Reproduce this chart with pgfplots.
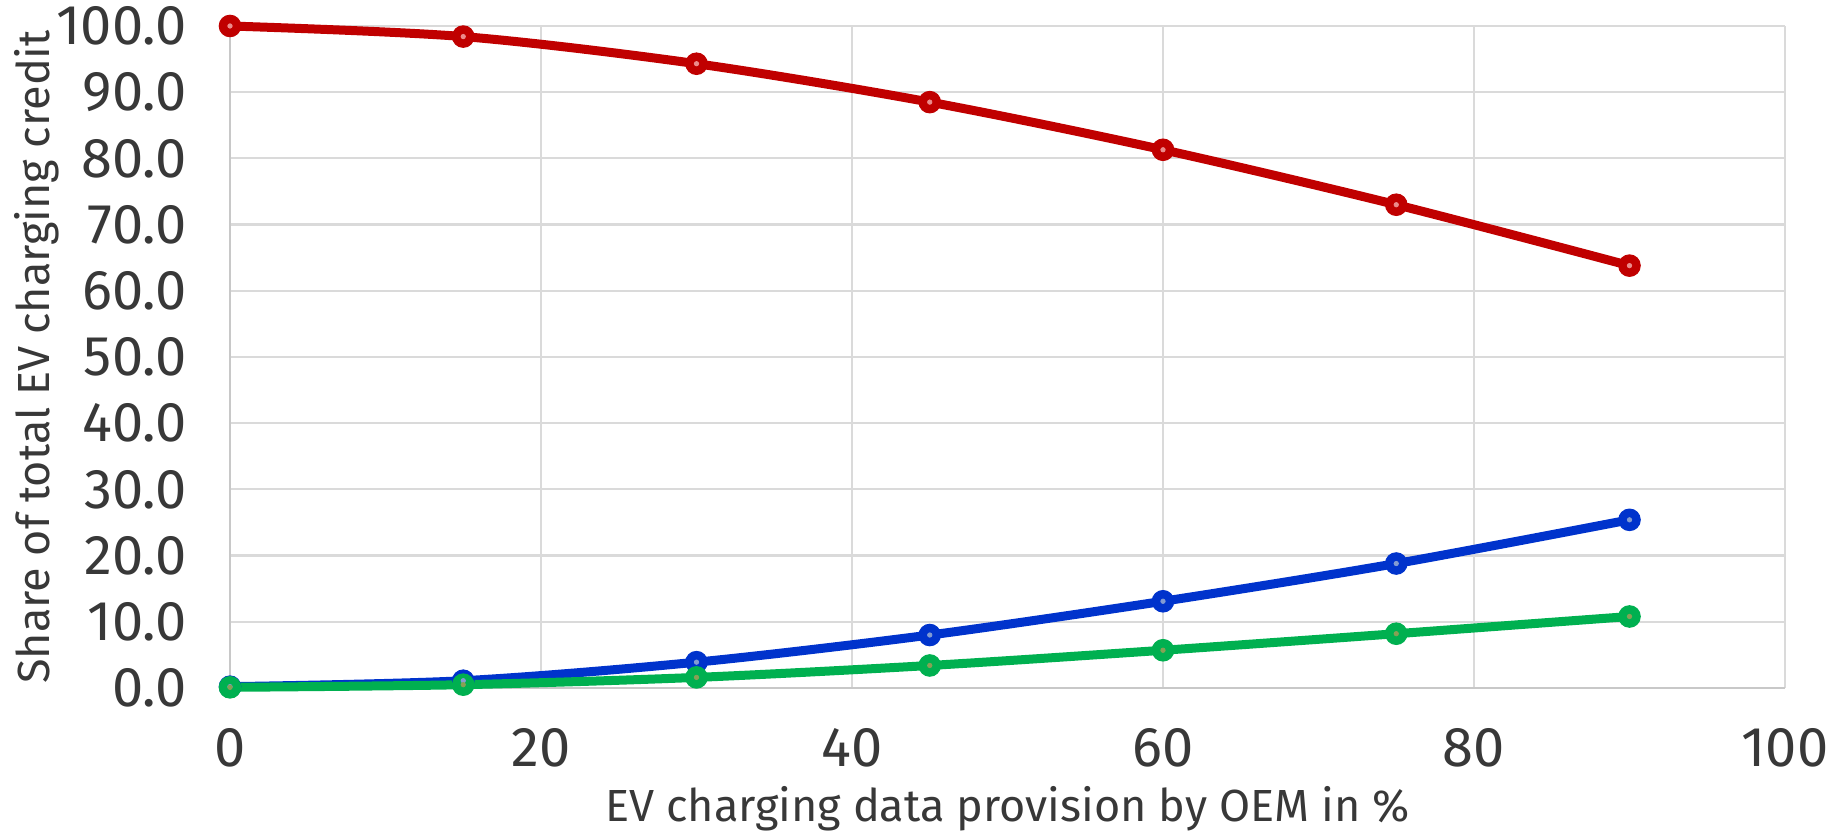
\documentclass[border=0pt]{standalone}
\usepackage{pgfplots}
\pgfplotsset{compat=1.18}
\usepackage{fontspec}
\setmainfont{Fira Sans}
\definecolor{cred}{HTML}{C00000}
\definecolor{cblue}{HTML}{0033CC}
\definecolor{cgreen}{HTML}{00B050}
\definecolor{ctext}{HTML}{383838}
\definecolor{cgrid}{HTML}{DADADA}
\definecolor{caxis}{HTML}{C8C8C8}
\begin{document}
\begin{tikzpicture}
\begin{axis}[
  scale only axis,
  width=777.5pt, height=331pt,
  xmin=0, xmax=100, ymin=0, ymax=100,
  xtick={0,20,...,100}, ytick={0,10,...,100},
  axis lines=left, axis line style={caxis, line width=1.2pt, -},
  major tick length=0pt,
  grid=major, major grid style={cgrid, line width=1.1pt},
  clip=false,
  tick label style={font=\fontsize{28}{32}\selectfont\color{ctext}, inner sep=0pt},
  label style={font=\fontsize{22.5}{27}\selectfont\color{ctext}, inner sep=0pt},
  /pgf/number format/assume math mode=true,
  yticklabel style={xshift=-21.5pt, /pgf/number format/.cd, fixed, fixed zerofill, precision=1},
  xticklabel style={yshift=-20pt},
  xlabel={EV charging data provision by OEM in \%},
  ylabel={Share of total EV charging credit},
  xlabel style={at={(axis description cs:0.5,0)}, anchor=north, yshift=-49pt},
  ylabel style={at={(axis description cs:0,0.5)}, anchor=north, yshift=108pt},
]
\path ([xshift=-115pt,yshift=-72.5pt]rel axis cs:0,0) rectangle ([xshift=29pt,yshift=13pt]rel axis cs:1,1);
\addplot[cred, line width=4.5pt, smooth, mark=*, mark size=5.4pt, mark options={line width=0.5pt}] coordinates {
 (0,100) (15,98.4) (30,94.3) (45,88.5) (60,81.3) (75,73.0) (90,63.8)};
\addplot[cblue, line width=4.5pt, smooth, mark=*, mark size=5.4pt, mark options={line width=0.5pt}] coordinates {
 (0,0.2) (15,1.1) (30,3.9) (45,8.0) (60,13.1) (75,18.8) (90,25.4)};
\addplot[cgreen, line width=4.5pt, smooth, mark=*, mark size=5.4pt, mark options={line width=0.5pt}] coordinates {
 (0,0.1) (15,0.5) (30,1.6) (45,3.4) (60,5.7) (75,8.2) (90,10.8)};
\addplot[only marks, mark=*, mark size=1.1pt, color={rgb,255:red,235;green,140;blue,140}] coordinates {
 (0,100) (15,98.4) (30,94.3) (45,88.5) (60,81.3) (75,73.0) (90,63.8)};
\addplot[only marks, mark=*, mark size=1.1pt, color={rgb,255:red,130;green,155;blue,210}] coordinates {
 (0,0.2) (15,1.1) (30,3.9) (45,8.0) (60,13.1) (75,18.8) (90,25.4)};
\addplot[only marks, mark=*, mark size=1.1pt, color={rgb,255:red,135;green,160;blue,85}] coordinates {
 (0,0.1) (15,0.5) (30,1.6) (45,3.4) (60,5.7) (75,8.2) (90,10.8)};
\end{axis}
\end{tikzpicture}
\end{document}
